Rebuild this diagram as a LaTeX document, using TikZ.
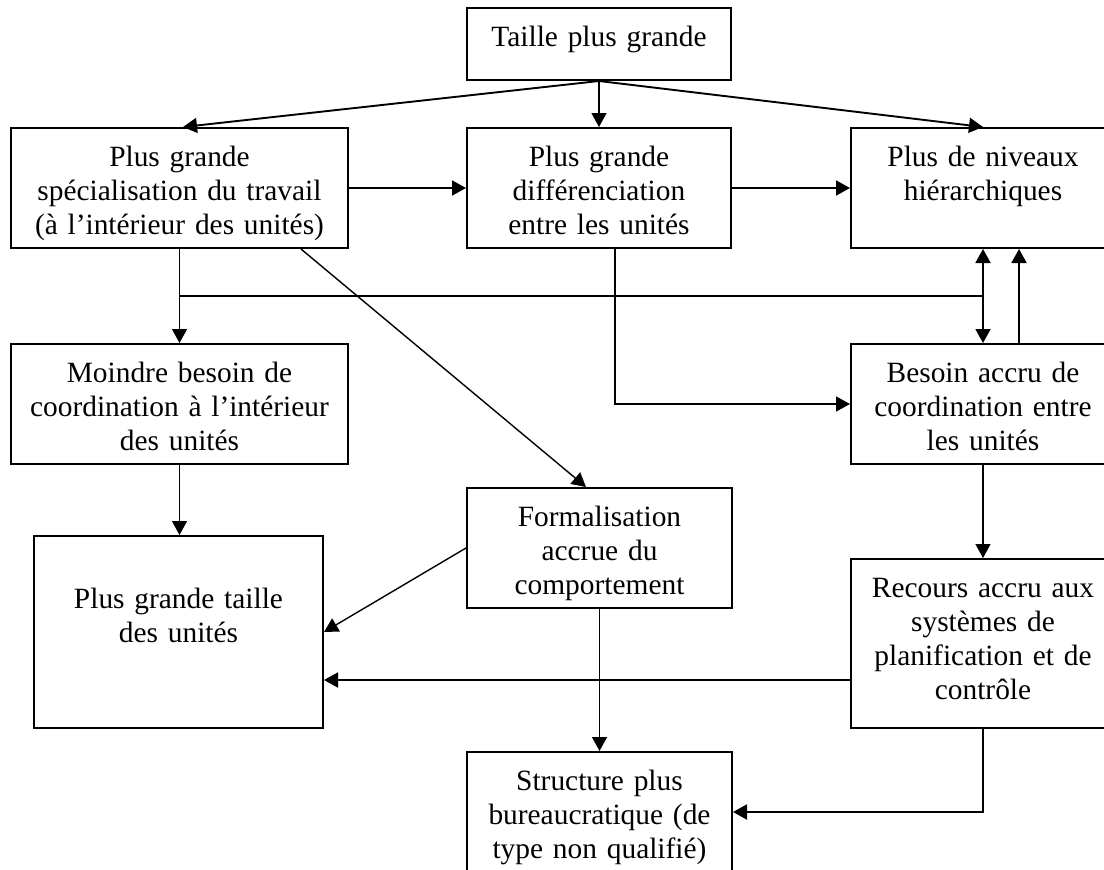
\documentclass[tikz,border=0pt]{standalone}
\usepackage{fontspec}
\setmainfont{Liberation Serif}
\usetikzlibrary{arrows.meta,calc}
\tikzset{
  box/.style={draw, line width=1pt, anchor=north west, inner sep=0pt,
    align=center, font=\fontsize{14.7}{17}\selectfont, text height=19pt},
  conn/.style={line width=0.95pt, -{Triangle[length=7pt,width=7.5pt]}},
  thin/.style={line width=0.7pt},
  line/.style={line width=0.95pt}
}
\begin{document}
\begin{tikzpicture}[x=0.5pt,y=-0.5pt]
\useasboundingbox (0,0) rectangle (1104,869);
\clip (0,0) rectangle (1104,869);
% boxes: width w -> text width w*0.5pt, height h -> text depth (h-38)*0.5pt
\node[box, text width=132pt, text depth=17pt] (T) at (466,7) {Taille plus grande};
\node[box, text width=168.5pt, text depth=41pt] (A) at (10,127) {Plus grande\\spécialisation du travail\\(à l’intérieur des unités)};
\node[box, text width=132pt, text depth=41pt] (B) at (466,127) {Plus grande\\différenciation\\entre les unités};
\node[box, text width=132pt, text depth=41pt] (C) at (850,127) {Plus de niveaux\\hiérarchiques};
\node[box, text width=168.5pt, text depth=41pt] (D) at (10,343) {Moindre besoin de\\coordination à l’intérieur\\des unités};
\node[box, text width=132pt, text depth=41pt] (E) at (850,343) {Besoin accru de\\coordination entre\\les unités};
\node[box, text width=132.5pt, text depth=41pt] (F) at (466,487) {Formalisation\\accrue du\\comportement};
\node[box, text width=144.5pt, text height=36pt, text depth=60pt] (G) at (33,535) {Plus grande taille\\des unités};
\node[box, text width=132pt, text depth=65.5pt] (H) at (850,558) {Recours accru aux\\systèmes de\\planification et de\\contrôle};
\node[box, text width=132.5pt, text depth=41pt] (I) at (466,751) {Structure plus\\bureaucratique (de\\type non qualifié)};

% connectors
\draw[conn] (T.south) -- ([xshift=1.75pt]A.north);
\draw[conn, thin] (T.south) -- (B.north);
\draw[conn] (T.south) -- (C.north);
\draw[conn] (A.east) -- (B.west);
\draw[conn] (B.east) -- (C.west);

\coordinate (j1) at ($(A.south)+(0,47)$);
\draw[conn, thin] (A.south) -- (D.north);
\draw[line] (j1) -- (j1 -| C.south);
\draw[line, {Triangle[length=7pt,width=7.5pt]}-{Triangle[length=7pt,width=7.5pt]}] (C.south) -- (E.north);
\draw[conn] ([xshift=18pt]E.north) -- ([xshift=18pt]C.south);

\draw[conn, thin] ([xshift=60.75pt]A.south) -- ([xshift=-6.75pt]F.north);
\draw[conn, thin] ([xshift=8pt]B.south) |- (E.west);

\draw[conn, thin] (D.south) -- (D.south |- G.north);
\draw[conn, thin] (F.west) -- (G.east);
\draw[conn, thin] (E.south) -- (H.north);
\coordinate (hw) at ([yshift=-18.25pt]H.west);
\draw[conn] (hw) -- (hw -| G.east);
\draw[conn, thin] (F.south) -- (I.north);
\draw[conn] (H.south) |- (I.east);
\end{tikzpicture}
\end{document}
